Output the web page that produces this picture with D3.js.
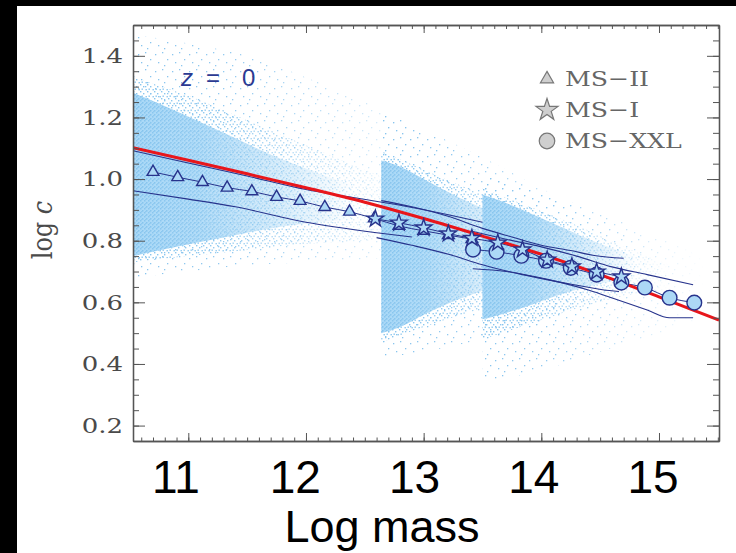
<!DOCTYPE html>
<html>
<head>
<meta charset="utf-8">
<script src="https://cdn.jsdelivr.net/npm/d3@7"></script>
<style>
  body { margin: 0; background: #000; }
  svg { display: block; }
</style>
</head>
<body>
<svg id="chart" width="736" height="553"></svg>
<script>
// ---- values ----

// median log c per mass bin, one list per simulation
const ms2Mass = [10.70, 10.91, 11.12, 11.33, 11.54, 11.75, 11.95, 12.16, 12.37, 12.58, 12.79, 13.00, 13.21, 13.41];
const ms2LogC = [1.023, 1.006, 0.990, 0.972, 0.960, 0.942, 0.929, 0.909, 0.894, 0.872, 0.848, 0.832, 0.818, 0.805];
const ms1Mass = [12.59, 12.79, 13.00, 13.21, 13.41, 13.63, 13.84, 14.05, 14.26, 14.47, 14.68];
const ms1LogC = [0.871, 0.858, 0.842, 0.823, 0.808, 0.793, 0.771, 0.738, 0.716, 0.699, 0.683];
const xxlMass = [13.42, 13.62, 13.83, 14.04, 14.25, 14.47, 14.68, 14.88, 15.09, 15.30];
const xxlLogC = [0.771, 0.764, 0.751, 0.735, 0.712, 0.690, 0.664, 0.648, 0.615, 0.599];

// percentile (scatter) lines
const ms2UpMass = [10.53, 11.0, 11.5, 12.0, 12.4, 12.8, 13.2, 13.5];
const ms2Up = [1.092, 1.052, 1.010, 0.966, 0.940, 0.915, 0.885, 0.860];
const ms2LoMass = [10.53, 11.0, 11.4, 12.0, 12.6, 12.9];
const ms2Lo = [0.962, 0.935, 0.910, 0.860, 0.826, 0.812];
const ms1UpMass = [12.64, 12.9, 13.2, 13.5, 13.75, 14.0, 14.25, 14.45, 14.7];
const ms1Up = [0.930, 0.910, 0.880, 0.840, 0.812, 0.785, 0.768, 0.752, 0.743];
const ms1LoMass = [12.60, 12.9, 13.22, 13.5, 13.84, 14.18, 14.52, 14.66];
const ms1Lo = [0.810, 0.785, 0.755, 0.722, 0.690, 0.664, 0.641, 0.635];
const xxlUpMass = [13.42, 13.7, 14.0, 14.3, 14.6, 14.9, 15.29];
const xxlUp = [0.830, 0.805, 0.780, 0.750, 0.715, 0.690, 0.657];
const xxlLoMass = [13.42, 13.7, 14.07, 14.4, 14.64, 14.9, 15.09, 15.29];
const xxlLo = [0.709, 0.700, 0.673, 0.640, 0.609, 0.575, 0.550, 0.550];

// red fitting relation
const fitMass = [10.53, 11.0, 11.5, 12.0, 12.5, 13.0, 13.5, 14.0, 14.5, 15.0, 15.51];
const fitLogC = [1.102, 1.061, 1.017, 0.972, 0.925, 0.872, 0.815, 0.756, 0.690, 0.618, 0.542];

// scatter clouds of individual haloes: [outer halo, middle, dense core]
const ms2Cloud = [
  { mass: [10.53, 11.0, 11.5, 12.0, 12.5, 13.0, 13.4], up: [1.47, 1.44, 1.40, 1.33, 1.25, 1.15, 1.05], lo: [0.68, 0.70, 0.72, 0.73, 0.74, 0.76, 0.80] },
  { mass: [10.53, 11.0, 11.5, 12.0, 12.5, 13.0], up: [1.33, 1.27, 1.19, 1.11, 1.03, 0.95], lo: [0.73, 0.75, 0.77, 0.79, 0.80, 0.82] },
  { mass: [10.53, 10.9, 11.3, 11.7, 12.1, 12.4], up: [1.28, 1.22, 1.15, 1.08, 1.02, 0.98], lo: [0.75, 0.78, 0.81, 0.84, 0.86, 0.87] }
];
const ms1Cloud = [
  { mass: [12.64, 13.0, 13.5, 14.0, 14.5, 15.0], up: [1.22, 1.16, 1.07, 0.97, 0.87, 0.78], lo: [0.42, 0.44, 0.48, 0.53, 0.58, 0.62] },
  { mass: [12.64, 13.0, 13.5, 14.0, 14.5], up: [1.09, 1.03, 0.95, 0.87, 0.79], lo: [0.47, 0.52, 0.58, 0.63, 0.66] },
  { mass: [12.64, 12.8, 13.0, 13.3, 13.6, 13.9], up: [1.06, 1.04, 1.00, 0.94, 0.89, 0.84], lo: [0.50, 0.52, 0.56, 0.61, 0.65, 0.68] }
];
const xxlCloud = [
  { mass: [13.5, 14.0, 14.5, 15.0, 15.4], up: [1.02, 0.96, 0.89, 0.81, 0.74], lo: [0.34, 0.38, 0.44, 0.50, 0.55] },
  { mass: [13.5, 13.9, 14.3, 14.7, 15.1], up: [0.97, 0.91, 0.85, 0.78, 0.72], lo: [0.48, 0.53, 0.58, 0.62, 0.64] },
  { mass: [13.5, 13.65, 13.9, 14.2, 14.5, 14.8], up: [0.95, 0.93, 0.89, 0.84, 0.79, 0.75], lo: [0.545, 0.56, 0.59, 0.63, 0.66, 0.68] }
];

// axes
const xMajor = [11, 12, 13, 14, 15];
const yMajor = [0.2, 0.4, 0.6, 0.8, 1.0, 1.2, 1.4];
const yLabels = ["0.2", "0.4", "0.6", "0.8", "1.0", "1.2", "1.4"];
const xLabels = ["11", "12", "13", "14", "15"];
const legendNames = ["MS\u2212II", "MS\u2212I", "MS\u2212XXL"];

// ---- drawing ----
const WIDTH = 736, HEIGHT = 553;
const NAVY = "#27338c", DOTS = "#86c4ee";
const svg = d3.select("#chart");

// black frame with the white page on it
svg.append("rect").attr("width", WIDTH).attr("height", HEIGHT).attr("fill", "#000");
svg.append("rect").attr("x", 17).attr("y", 6)
  .attr("width", WIDTH - 17).attr("height", HEIGHT - 6).attr("fill", "#fff");

const x = d3.scaleLinear().domain([10.53, 15.51]).range([133, 719]);
const y = d3.scaleLinear().domain([0.15, 1.5]).range([441, 25]);

const defs = svg.append("defs");
defs.append("clipPath").attr("id", "plot-clip").append("rect")
  .attr("x", x.range()[0]).attr("y", y.range()[1])
  .attr("width", x.range()[1] - x.range()[0])
  .attr("height", y.range()[0] - y.range()[1]);

// dotted fills standing in for the individual haloes
function dotPattern(id, size, dots, r, bg) {
  const p = defs.append("pattern").attr("id", id)
    .attr("patternUnits", "userSpaceOnUse")
    .attr("width", size).attr("height", size);
  if (bg) p.append("rect").attr("width", size).attr("height", size).attr("fill", bg);
  dots.forEach(([cx, cy]) => {
    p.append("rect").attr("x", cx).attr("y", cy)
      .attr("width", r).attr("height", r).attr("fill", DOTS);
  });
}
dotPattern("sparse", 17, [[2, 3], [9, 1], [14, 8], [5, 11], [11, 14]], 1.3);
dotPattern("medium", 7, [[0, 0], [3, 2], [5.5, 5], [1.5, 4.5]], 1.4);
dotPattern("dense", 4, [[0, 0], [2, 2], [1, 3.2]], 1.5, "#a9d8f7");

// each band fades out towards high mass
function fadeMask(id, m0, m1) {
  const grad = defs.append("linearGradient").attr("id", id + "-g")
    .attr("gradientUnits", "userSpaceOnUse")
    .attr("x1", x(m0)).attr("x2", x(m1)).attr("y1", 0).attr("y2", 0);
  grad.append("stop").attr("offset", 0).attr("stop-color", "#fff");
  grad.append("stop").attr("offset", 0.3).attr("stop-color", "#e0e0e0");
  grad.append("stop").attr("offset", 1).attr("stop-color", "#000");
  defs.append("mask").attr("id", id)
    .attr("maskUnits", "userSpaceOnUse")
    .attr("x", 0).attr("y", 0).attr("width", WIDTH).attr("height", HEIGHT)
    .append("rect").attr("width", WIDTH).attr("height", HEIGHT)
    .attr("fill", `url(#${id}-g)`);
  return `url(#${id})`;
}

const plotG = svg.append("g").attr("clip-path", "url(#plot-clip)");

const cloudArea = d3.area()
  .x(d => x(d[0])).y0(d => y(d[2])).y1(d => y(d[1]))
  .curve(d3.curveMonotoneX);
const fills = ["url(#sparse)", "url(#medium)", "url(#dense)"];
[ms2Cloud, ms1Cloud, xxlCloud].forEach((cloud, c) => {
  cloud.forEach((band, i) => {
    const pts = band.mass.map((m, k) => [m, band.up[k], band.lo[k]]);
    plotG.append("path").attr("d", cloudArea(pts)).attr("fill", fills[i])
      .attr("mask", fadeMask(`fade${c}${i}`, band.mass[0], band.mass[band.mass.length - 1]));
  });
});

// percentile lines
const thin = d3.line().x(d => x(d[0])).y(d => y(d[1])).curve(d3.curveMonotoneX);
const zip = (a, b) => a.map((v, i) => [v, b[i]]);
[[ms2UpMass, ms2Up], [ms2LoMass, ms2Lo], [ms1UpMass, ms1Up], [ms1LoMass, ms1Lo],
 [xxlUpMass, xxlUp], [xxlLoMass, xxlLo]].forEach(([m, c]) => {
  plotG.append("path").attr("d", thin(zip(m, c)))
    .attr("fill", "none").attr("stroke", NAVY).attr("stroke-width", 1.1);
});

// medians connected
[[ms2Mass, ms2LogC], [ms1Mass, ms1LogC], [xxlMass, xxlLogC]].forEach(([m, c]) => {
  plotG.append("path").attr("d", thin(zip(m, c)))
    .attr("fill", "none").attr("stroke", NAVY).attr("stroke-width", 1);
});

// red relation
plotG.append("path")
  .attr("d", thin(zip(fitMass, fitLogC)))
  .attr("fill", "none").attr("stroke", "#e8161b").attr("stroke-width", 3);

// markers
function markers(mass, logc, type, size) {
  plotG.append("g").selectAll("path").data(zip(mass, logc)).join("path")
    .attr("transform", d => `translate(${x(d[0])},${y(d[1])})`)
    .attr("d", d3.symbol().type(type).size(size))
    .attr("fill", "#acd8f6").attr("stroke", NAVY).attr("stroke-width", 1.4);
}
markers(ms2Mass, ms2LogC, d3.symbolTriangle, 60);
markers(xxlMass, xxlLogC, d3.symbolCircle, 170);
markers(ms1Mass, ms1LogC, d3.symbolStar, 85);

// axes: ticks pointing inwards, all four sides
const axisG = svg.append("g").attr("color", "#555");
const xMinor = d3.range(10.6, 15.51, 0.1);
const yMinor = d3.range(0.15, 1.501, 0.05);
function drawAxis(axis, tx, ty) {
  const g = axisG.append("g").attr("transform", `translate(${tx},${ty})`).call(axis);
  g.selectAll("text").remove();
  g.select(".domain").attr("stroke-width", 1.3);
  g.selectAll("line").attr("stroke-width", 1);
  return g;
}
const [x0, x1] = x.range(), [y0, y1] = y.range();
drawAxis(d3.axisBottom(x).tickValues(xMinor).tickSize(-3.5).tickSizeOuter(0), 0, y0);
drawAxis(d3.axisBottom(x).tickValues(xMajor).tickSize(-8).tickSizeOuter(0), 0, y0);
drawAxis(d3.axisTop(x).tickValues(xMinor).tickSize(-4).tickSizeOuter(0), 0, y1);
drawAxis(d3.axisTop(x).tickValues(xMajor).tickSize(-8).tickSizeOuter(0), 0, y1);
drawAxis(d3.axisLeft(y).tickValues(yMinor).tickSize(-6).tickSizeOuter(0), x0, 0);
drawAxis(d3.axisLeft(y).tickValues(yMajor).tickSize(-12).tickSizeOuter(0), x0, 0);
drawAxis(d3.axisRight(y).tickValues(yMinor).tickSize(-6).tickSizeOuter(0), x1, 0);
drawAxis(d3.axisRight(y).tickValues(yMajor).tickSize(-12).tickSizeOuter(0), x1, 0);

// y tick labels in the wide serif face of the figure
svg.append("g").selectAll("text").data(yMajor).join("text")
  .attr("transform", d => `translate(123,${y(d)}) scale(1.3,1)`)
  .attr("dy", "0.36em")
  .attr("text-anchor", "end")
  .attr("font-family", "DejaVu Serif")
  .attr("font-size", 20)
  .attr("fill", "#4a4a4a")
  .text((d, i) => yLabels[i]);

// y title
const yTitle = svg.append("text")
  .attr("transform", "translate(52,230) scale(1.2,1) rotate(-90)")
  .attr("text-anchor", "middle")
  .attr("font-family", "DejaVu Serif")
  .attr("font-size", 24)
  .attr("fill", "#4a4a4a");
yTitle.append("tspan").text("log ");
yTitle.append("tspan").attr("font-style", "italic").text("c");

// redshift tag
const zTag = svg.append("text")
  .attr("x", 181).attr("y", 86)
  .attr("font-family", "Liberation Sans, Arial, sans-serif")
  .attr("font-size", 24)
  .attr("fill", "#2b3a92");
zTag.append("tspan").attr("font-style", "italic").text("z");
zTag.append("tspan").attr("dx", 13).text("=");
zTag.append("tspan").attr("dx", 22).text("0");

// legend
const legendTypes = [d3.symbolTriangle, d3.symbolStar, d3.symbolCircle];
const legendSizes = [75, 150, 190];
const legend = svg.append("g");
legendNames.forEach((name, i) => {
  const cy = 79 + i * 31;
  legend.append("path")
    .attr("transform", `translate(547,${cy})`)
    .attr("d", d3.symbol().type(legendTypes[i]).size(legendSizes[i]))
    .attr("fill", "#cfcfcf").attr("stroke", "#777").attr("stroke-width", 1.2);
  legend.append("text")
    .attr("transform", `translate(565,${cy + 7}) scale(1.2,1)`)
    .attr("font-family", "DejaVu Serif")
    .attr("font-size", 21)
    .attr("fill", "#666")
    .text(name);
});

// big overlay labels for the mass axis
const labelX = d3.scaleLinear().domain([11, 15]).range([176, 653]);
svg.append("g").selectAll("text").data(xMajor).join("text")
  .attr("x", d => labelX(d)).attr("y", 493)
  .attr("text-anchor", "middle")
  .attr("font-family", "Liberation Sans, Arial, sans-serif")
  .attr("font-size", 46)
  .attr("fill", "#000")
  .text((d, i) => xLabels[i]);

svg.append("text")
  .attr("x", 382).attr("y", 542)
  .attr("text-anchor", "middle")
  .attr("font-family", "Liberation Sans, Arial, sans-serif")
  .attr("font-size", 45)
  .attr("fill", "#000")
  .text("Log mass");
</script>
</body>
</html>
